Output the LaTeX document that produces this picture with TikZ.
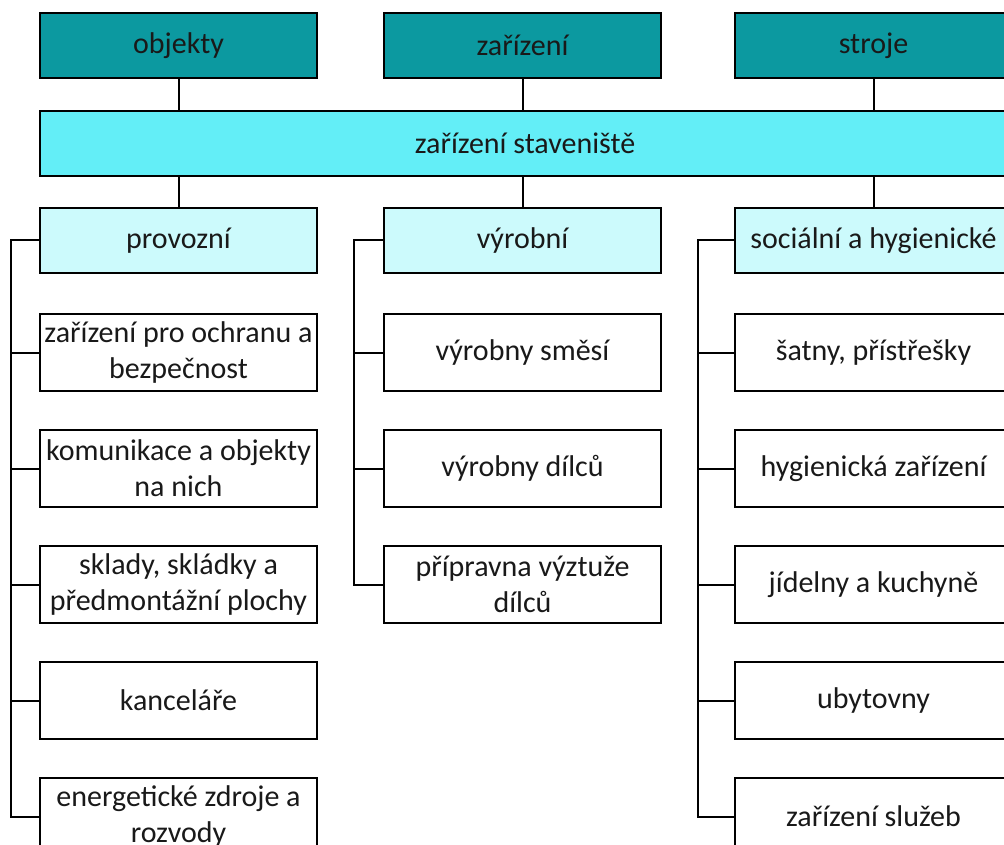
\documentclass[tikz,border=0pt]{standalone}
\usepackage{fontspec}
\setmainfont{Carlito}
\definecolor{topteal}{RGB}{12,153,160}
\definecolor{bandcyan}{RGB}{99,238,247}
\definecolor{lightcyan}{RGB}{204,250,252}
\begin{document}
\begin{tikzpicture}[x=1pt,y=-1pt,
  basebox/.style={draw=black,line width=2pt,minimum width=277pt,inner sep=1pt,align=center,
    font=\fontsize{30}{36}\selectfont,text=black!90},
  topbox/.style={basebox,fill=topteal,minimum height=65pt},
  midbox/.style={basebox,fill=lightcyan,minimum height=65pt},
  leafbox/.style={basebox,fill=white,minimum height=77pt},
  conn/.style={line width=2pt,draw=black}]
\useasboundingbox (0,0) rectangle (1004,845);
\clip (0,0) rectangle (1004,845);
\fill[white] (0,0) rectangle (1004,845);
% top
\node[topbox] (objekty) at (178.5,45.5) {objekty};
\node[topbox] (zarizeni) at (522.5,45.5) {zařízení};
\node[topbox] (stroje) at (873.5,45.5) {stroje};
% band
\node[basebox,fill=bandcyan,minimum height=65pt,minimum width=990pt] (band) at (535,143.5) {};
\node[font=\fontsize{30}{36}\selectfont,text=black!90] (bandtext) at (525,143.5) {zařízení staveniště};
% level 2
\node[midbox] (provozni) at (178.5,240.5) {provozní};
\node[midbox] (vyrobni) at (522.5,240.5) {výrobní};
\node[midbox] (socialni) at (873.5,240.5) {sociální a hygienické};
% provozni children
\node[leafbox] (p1) at (178.5,352.5) {zařízení pro ochranu a\\bezpečnost};
\node[leafbox] (p2) at (178.5,468.5) {komunikace a objekty\\na nich};
\node[leafbox] (p3) at (178.5,584.5) {sklady, skládky a\\předmontážní plochy};
\node[leafbox] (p4) at (178.5,700.5) {kanceláře};
\node[leafbox] (p5) at (178.5,816.5) {energetické zdroje a\\rozvody};
% vyrobni children
\node[leafbox] (v1) at (522.5,352.5) {výrobny směsí};
\node[leafbox] (v2) at (522.5,468.5) {výrobny dílců};
\node[leafbox] (v3) at (522.5,584.5) {přípravna výztuže\\dílců};
% socialni children
\node[leafbox] (s1) at (873.5,352.5) {šatny, přístřešky};
\node[leafbox] (s2) at (873.5,468.5) {hygienická zařízení};
\node[leafbox] (s3) at (873.5,584.5) {jídelny a kuchyně};
\node[leafbox] (s4) at (873.5,700.5) {ubytovny};
\node[leafbox] (s5) at (873.5,816.5) {zařízení služeb};
% connectors top
\draw[conn] (objekty.south) -- (objekty.south |- band.north);
\draw[conn] (zarizeni.south) -- (zarizeni.south |- band.north);
\draw[conn] (stroje.south) -- (stroje.south |- band.north);
\draw[conn] (provozni.north) -- (provozni.north |- band.south);
\draw[conn] (vyrobni.north) -- (vyrobni.north |- band.south);
\draw[conn] (socialni.north) -- (socialni.north |- band.south);
% brackets
\coordinate (pt) at (11,0);
\coordinate (vt) at (354,0);
\coordinate (st) at (698,0);
\draw[conn] (provozni.west) -- (pt |- provozni.west) -- (pt |- p5.west) -- (p5.west);
\foreach \n in {p1,p2,p3,p4} \draw[conn] (pt |- \n.west) -- (\n.west);
\draw[conn] (vyrobni.west) -- (vt |- vyrobni.west) -- (vt |- v3.west) -- (v3.west);
\foreach \n in {v1,v2} \draw[conn] (vt |- \n.west) -- (\n.west);
\draw[conn] (socialni.west) -- (st |- socialni.west) -- (st |- s5.west) -- (s5.west);
\foreach \n in {s1,s2,s3,s4} \draw[conn] (st |- \n.west) -- (\n.west);
\end{tikzpicture}
\end{document}
